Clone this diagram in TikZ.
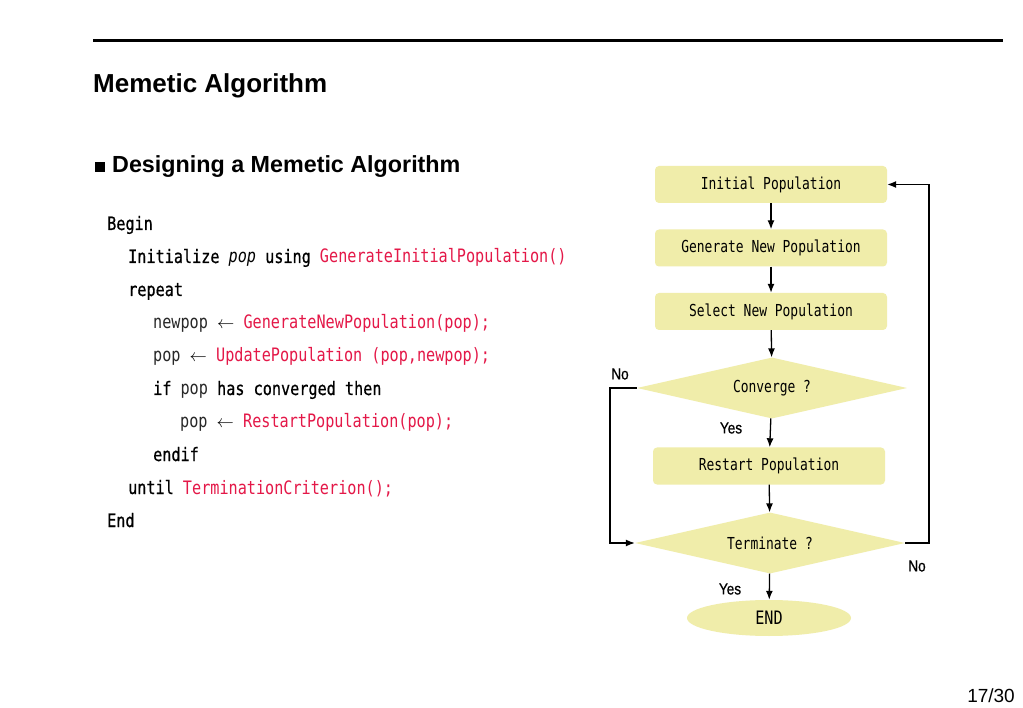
\documentclass[tikz,border=0pt]{standalone}
\usepackage{fontspec}
\setmainfont{Liberation Sans}
\newfontfamily\codefont[FakeStretch=0.82]{DejaVu Sans Mono}
\newfontfamily\kwfont[FakeStretch=0.82,FakeBold=0.7]{DejaVu Sans Mono}
\newfontfamily\chartfont[FakeStretch=0.785]{DejaVu Sans Mono}
\newfontfamily\answerfont[FakeStretch=0.85,FakeBold=0.6]{Liberation Sans}
\usetikzlibrary{positioning}
\usetikzlibrary{arrows,arrows.meta,shapes}
\usetikzlibrary{shapes.geometric}
\usetikzlibrary{calc}
\definecolor{funcred}{RGB}{228,24,72}
\definecolor{boxfill}{RGB}{240,237,170}
\definecolor{vargray}{RGB}{40,40,40}
\tikzstyle{procbox}=[rectangle,rounded corners=4pt,fill=boxfill,minimum width=232pt,minimum height=37pt,inner sep=0pt,font=\chartfont\fontsize{16.5}{16.5}\selectfont]
\tikzstyle{decision}=[diamond,aspect=4.4,fill=boxfill,minimum width=270pt,minimum height=61pt,inner sep=0pt,font=\chartfont\fontsize{16.5}{16.5}\selectfont]
\tikzstyle{terminal}=[ellipse,fill=boxfill,minimum width=164pt,minimum height=36pt,inner sep=0pt,font=\codefont\fontsize{18.5}{18.5}\selectfont]
\tikzstyle{answer}=[inner sep=0pt,font=\answerfont\fontsize{16}{16}\selectfont]
\tikzstyle{codeline}=[anchor=base west,inner sep=0pt,font=\codefont\fontsize{18.5}{18.5}\selectfont]
\tikzstyle{flow}=[-{Latex[length=9pt,width=7pt]},line width=1.3pt]
\newcommand{\kw}[1]{{\kwfont #1}}
\newcommand{\fn}[1]{\textcolor{funcred}{#1}}
\newcommand{\var}[1]{\textcolor{vargray}{#1}}
\newcommand{\getsarrow}{{\fontsize{17}{17}\selectfont$\leftarrow$}}
\begin{document}
\begin{tikzpicture}[x=1pt,y=-1pt]
\useasboundingbox[fill=white] (0,0) rectangle (1023,708);

%Header
    \draw[line width=3pt] (93,41) -- (1003,41);
    \node[anchor=base west,inner sep=0pt,font=\bfseries\fontsize{26}{26}\selectfont] (title) at (93,93) {Memetic Algorithm};
    \fill (95,162) rectangle (105,172);
    \node[anchor=base west,inner sep=0pt,font=\bfseries\fontsize{23.3}{23.3}\selectfont] (subtitle) at (112,173) {Designing a Memetic Algorithm};
    \node[anchor=base east,inner sep=0pt,font=\fontsize{19}{19}\selectfont] (pagenum) at (1015,702) {17/30};

%Pseudo code
    \foreach \y/\x/\txt in {230/107/{\kw{Begin}},
        263/128/{\kw{Initialize} \textit{pop} \kw{using} \fn{GenerateInitialPopulation()}},
        296/128/{\kw{repeat}},
        329/153/{\var{newpop} \getsarrow{} \fn{GenerateNewPopulation(pop);}},
        362/153/{\var{pop} \getsarrow{} \fn{UpdatePopulation (pop,newpop);}},
        395/153/{\kw{if} \var{pop} \kw{has converged then}},
        428/180/{\var{pop} \getsarrow{} \fn{RestartPopulation(pop);}},
        461/153/{\kw{endif}},
        494/128/{\kw{until} \fn{TerminationCriterion();}},
        527/107/{\kw{End}}}
        \node[codeline] (line\y) at (\x,\y) {\txt};

%Flow chart
    \foreach \pos/\name/\label in {{(771,184.5)/init/Initial Population}, {(771,248)/gen/Generate New Population}, {(771,311.5)/sel/Select New Population}, {(769,466)/restart/Restart Population}}
        \node[procbox] (\name) at \pos {\label};
    \node[decision] (conv) at (772,388) {Converge ?};
    \node[decision] (term) at (770,543) {Terminate ?};
    \node[terminal] (end) at (769,618) {END};

    \coordinate (leftrail) at (610,0);
    \coordinate (rightrail) at (929,0);

  \foreach \source/ \dest in {init/gen, gen/sel, sel/conv, conv/restart, restart/term, term/end}
          \draw[flow] (\source) -- (\dest);
  \draw[flow] (conv.west) -- (conv.west -| leftrail) |- (term.west);
  \draw[flow] (term.east) -- (term.east -| rightrail) |- (init.east);

\node[answer] (convno) at (620,374) {No};
\node[answer] (convyes) at (731,428) {Yes};
\node[answer] (termno) at (917,566) {No};
\node[answer] (termyes) at (730,589) {Yes};

   \end{tikzpicture}
\end{document}
